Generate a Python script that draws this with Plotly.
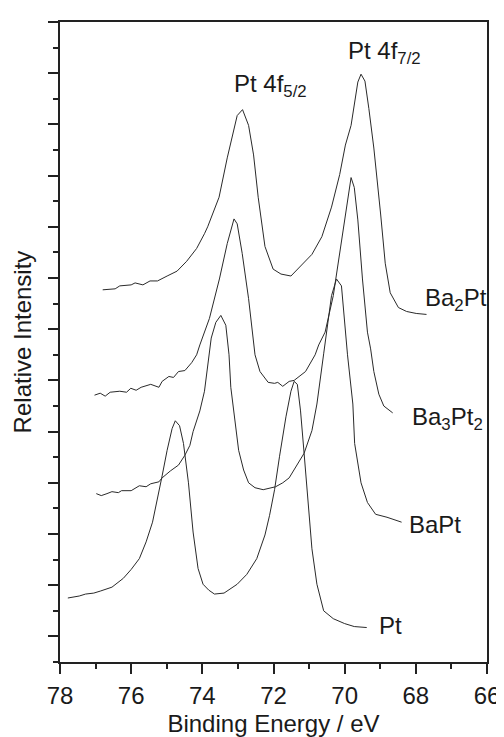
import plotly.graph_objects as go

# binding energy (eV) / relative intensity (arb. units)
ba2pt_energy = [76.80, 76.45, 76.32, 76.00, 75.89, 75.67, 75.47, 75.26, 74.99, 74.71, 74.44, 74.16,
                73.94, 73.85, 73.53, 73.30, 73.02, 72.87, 72.70, 72.56, 72.43, 72.24, 72.01, 71.79,
                71.51, 71.19, 70.92, 70.64, 70.37, 70.14, 69.98, 69.82, 69.63, 69.54, 69.43, 69.32,
                69.18, 68.99, 68.86, 68.72, 68.49, 68.26, 67.99, 67.70]
ba2pt_intensity = [378, 379, 382, 383, 385, 383, 387, 387, 392, 397, 407, 420,
                   435, 442, 472, 512, 555, 561, 545, 515, 472, 422, 399, 394,
                   392, 404, 414, 432, 462, 495, 525, 545, 589, 597, 590, 562,
                   522, 455, 405, 375, 360, 356, 354, 353]

ba3pt2_energy = [77.03, 76.87, 76.73, 76.59, 76.32, 76.13, 76.01, 75.86, 75.72, 75.45, 75.22, 75.13,
                 74.94, 74.81, 74.67, 74.49, 74.30, 74.16, 74.07, 73.80, 73.52, 73.30, 73.11, 73.02,
                 72.88, 72.70, 72.52, 72.38, 72.15, 71.97, 71.88, 71.74, 71.56, 71.42, 71.10, 70.83,
                 70.73, 70.55, 70.32, 70.09, 69.95, 69.82, 69.73, 69.63, 69.50, 69.45, 69.36, 69.27,
                 69.18, 69.04, 68.90, 68.65]
ba3pt2_intensity = [271, 273, 270, 274, 275, 274, 278, 276, 279, 282, 279, 285,
                    290, 289, 295, 296, 304, 312, 322, 349, 389, 425, 450, 445,
                    415, 369, 312, 295, 284, 283, 284, 280, 285, 286, 295, 312,
                    322, 335, 372, 429, 465, 492, 482, 449, 389, 372, 335, 318,
                    295, 272, 260, 253]

bapt_energy = [76.98, 76.84, 76.68, 76.54, 76.36, 76.27, 76.00, 75.77, 75.58, 75.45, 75.22, 75.13,
               74.90, 74.67, 74.49, 74.35, 74.26, 74.07, 73.94, 73.82, 73.75, 73.62, 73.48, 73.34,
               73.25, 73.20, 73.07, 72.98, 72.84, 72.70, 72.52, 72.29, 71.94, 71.74, 71.56, 71.33,
               71.14, 70.92, 70.78, 70.59, 70.37, 70.23, 70.09, 69.92, 69.77, 69.72, 69.54, 69.36,
               69.13, 68.81, 68.40]
bapt_intensity = [171, 169, 171, 173, 172, 174, 174, 179, 178, 181, 183, 187,
                  194, 200, 210, 220, 234, 255, 275, 309, 329, 345, 352, 342,
                  312, 279, 239, 215, 195, 182, 177, 175, 178, 182, 187, 200,
                  212, 235, 262, 313, 372, 389, 382, 312, 262, 222, 182, 162,
                  150, 147, 142]

pt_energy = [77.78, 77.46, 77.28, 77.05, 76.87, 76.54, 76.22, 76.00, 75.77, 75.58, 75.40, 75.26,
             75.13, 74.99, 74.85, 74.76, 74.64, 74.53, 74.39, 74.26, 74.12, 73.98, 73.82, 73.66,
             73.39, 73.02, 72.75, 72.47, 72.24, 72.11, 71.97, 71.83, 71.65, 71.51, 71.42, 71.33,
             71.24, 71.14, 71.05, 70.92, 70.78, 70.59, 70.32, 70.00, 69.73, 69.38]
pt_intensity = [65, 67, 69, 70, 72, 76, 85, 94, 105, 122, 142, 165,
                189, 215, 237, 245, 240, 222, 182, 132, 95, 79, 73, 69,
                70, 79, 89, 105, 129, 149, 175, 209, 249, 275, 285, 282,
                255, 212, 172, 115, 79, 52, 44, 39, 36, 35]

x_ticks = [78, 76, 74, 72, 70, 68, 66]
x_minor = [77, 75, 73, 71, 69, 67]
y_major = [26 + 52 * k for k in range(13)]
y_minor = [52 * k for k in range(13)]

curves = [
    (ba2pt_energy, ba2pt_intensity),
    (ba3pt2_energy, ba3pt2_intensity),
    (bapt_energy, bapt_intensity),
    (pt_energy, pt_intensity),
]

fig = go.Figure()
for energy, intensity in curves:
    fig.add_trace(go.Scatter(x=energy, y=intensity, mode="lines",
                             line=dict(color="#2a2a2a", width=1), showlegend=False))

font = dict(family="Liberation Sans, Arial, sans-serif", size=24, color="#1a1a1a")

labels = [
    (67.81, 368, "Ba<sub>2</sub>Pt"),
    (68.17, 247, "Ba<sub>3</sub>Pt<sub>2</sub>"),
    (68.25, 140, "BaPt"),
    (69.08, 37, "Pt"),
    (73.17, 586, "Pt 4f<sub>5/2</sub>"),
    (69.96, 619, "Pt 4f<sub>7/2</sub>"),
]
for x, y, text in labels:
    fig.add_annotation(x=x, y=y, text=text, showarrow=False, xanchor="left", yanchor="middle", font=font)

fig.update_xaxes(range=[78, 66], tickvals=x_ticks, ticks="outside", ticklen=10, tickwidth=1.5,
                 tickcolor="#222", showline=True, linecolor="#222", linewidth=1.5, mirror=True,
                 showgrid=False, zeroline=False, tickfont=font, ticklabelstandoff=1,
                 minor=dict(tickvals=x_minor, ticks="outside", ticklen=5, tickwidth=1.5, tickcolor="#222"),
                 title=dict(text="Binding Energy / eV", font=font, standoff=8))
fig.update_yaxes(range=[0, 650], tickvals=y_major, ticks="outside", ticklen=10, tickwidth=1.5,
                 tickcolor="#222", showline=True, linecolor="#222", linewidth=1.5, mirror=True,
                 showgrid=False, zeroline=False, showticklabels=False,
                 minor=dict(tickvals=y_minor, ticks="outside", ticklen=5, tickwidth=1.5, tickcolor="#222"),
                 title=dict(text="Relative Intensity", font=font, standoff=10))
fig.update_layout(width=504, height=737, autosize=False,
                  margin=dict(l=52, r=15, t=13, b=75),
                  plot_bgcolor="white", paper_bgcolor="white")

fig.write_html("out.html")
